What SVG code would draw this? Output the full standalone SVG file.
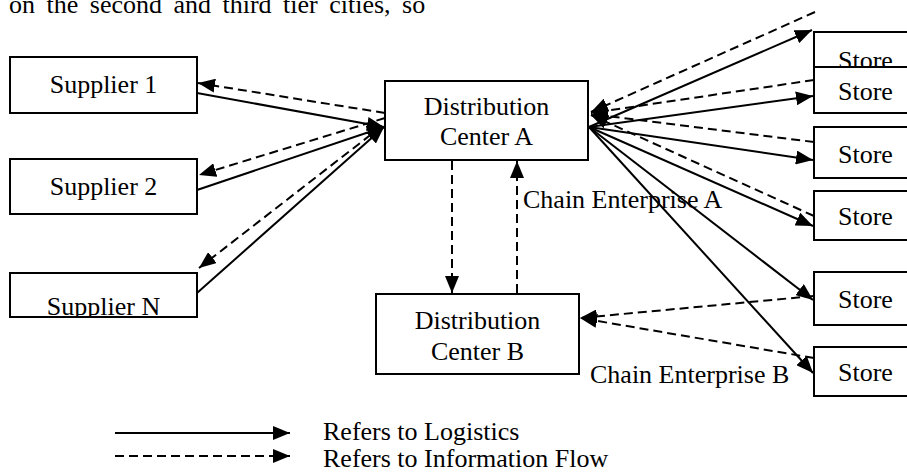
<svg xmlns="http://www.w3.org/2000/svg" width="907" height="472" viewBox="0 0 907 472">
<style>
text{font-family:"Liberation Serif","Times New Roman",serif;font-size:26px;fill:#000}
.box{fill:#fff;stroke:#000;stroke-width:2}
.s{fill:none;stroke:#000;stroke-width:2}
.d{fill:none;stroke:#000;stroke-width:2;stroke-dasharray:9 5}
.c{text-anchor:middle}
</style>
<defs>
<marker id="ah" markerUnits="userSpaceOnUse" markerWidth="18" markerHeight="14" refX="17" refY="7" orient="auto" viewBox="0 0 18 14">
<path d="M0,0 L17,7 L0,14 z" fill="#000"/>
</marker>
<clipPath id="clipN"><rect x="10" y="273" width="187" height="44"/></clipPath>
</defs>
<rect width="907" height="472" fill="#fff"/>
<text x="9" y="13" word-spacing="5">on the second and third tier cities, so</text>
<g id="supplier1"><rect class="box" x="10" y="57" width="187" height="56"/><text class="c" x="103.5" y="93">Supplier 1</text></g>
<g id="supplier2"><rect class="box" x="10" y="159" width="187" height="55"/><text class="c" x="103.5" y="195">Supplier 2</text></g>
<g id="supplierN"><rect class="box" x="10" y="273" width="187" height="44"/><text class="c" x="103.5" y="315" clip-path="url(#clipN)">Supplier N</text></g>
<g id="dcA"><rect class="box" x="385" y="81" width="203" height="79"/><text class="c" x="486.5" y="115">Distribution</text><text class="c" x="486.5" y="145">Center A</text></g>
<g id="dcB"><rect class="box" x="376" y="294" width="203" height="80"/><text class="c" x="477.5" y="329">Distribution</text><text class="c" x="477.5" y="360">Center B</text></g>
<g id="store1"><rect class="box" x="814" y="32" width="100" height="50"/><text x="838" y="69">Store</text></g>
<g id="store2"><rect class="box" x="814" y="67" width="100" height="46"/><text x="838" y="100">Store</text></g>
<g id="store3"><rect class="box" x="814" y="127" width="100" height="51"/><text x="838" y="163">Store</text></g>
<g id="store4"><rect class="box" x="814" y="191" width="100" height="49"/><text x="838" y="225">Store</text></g>
<g id="store5"><rect class="box" x="814" y="272" width="100" height="53"/><text x="838" y="308">Store</text></g>
<g id="store6"><rect class="box" x="814" y="347" width="100" height="49"/><text x="838" y="381">Store</text></g>
<g id="labels">
<text x="523" y="208">Chain Enterprise A</text>
<text x="590" y="383">Chain Enterprise B</text>
</g>
<g id="connectors">
<path class="s" d="M197,93 L384,127" marker-end="url(#ah)"/>
<path class="s" d="M197,190 L384,127" marker-end="url(#ah)"/>
<path class="s" d="M197,293 L384,127" marker-end="url(#ah)"/>
<path class="d" d="M385,113 L198,83" marker-end="url(#ah)"/>
<path class="d" d="M385,118 L199,175" marker-end="url(#ah)"/>
<path class="d" d="M382,126 L199,268" marker-end="url(#ah)"/>
<path class="d" d="M815,12 L591,112" marker-end="url(#ah)"/>
<path class="d" d="M814,80 L591,113" marker-end="url(#ah)"/>
<path class="d" d="M814,142 L591,114" marker-end="url(#ah)"/>
<path class="d" d="M814,216 L591,115" marker-end="url(#ah)"/>
<path class="s" d="M589,127 L812,30" marker-end="url(#ah)"/>
<path class="s" d="M589,127 L813,96" marker-end="url(#ah)"/>
<path class="s" d="M589,127 L813,160" marker-end="url(#ah)"/>
<path class="s" d="M589,127 L813,226" marker-end="url(#ah)"/>
<path class="s" d="M589,127 L813,300" marker-end="url(#ah)"/>
<path class="s" d="M589,127 L813,373" marker-end="url(#ah)"/>
<path class="d" d="M814,296 L580,318" marker-end="url(#ah)"/>
<path class="d" d="M814,358 L580,318" marker-end="url(#ah)"/>
<path class="d" d="M452,161 L452,293" marker-end="url(#ah)"/>
<path class="d" d="M517,293 L517,161" marker-end="url(#ah)"/>
</g>
<g id="legend">
<path class="s" d="M115,433 L290,433" marker-end="url(#ah)"/>
<path class="d" d="M115,456 L290,456" marker-end="url(#ah)"/>
<text x="323" y="440">Refers to Logistics</text>
<text x="323" y="467">Refers to Information Flow</text>
</g>
</svg>
